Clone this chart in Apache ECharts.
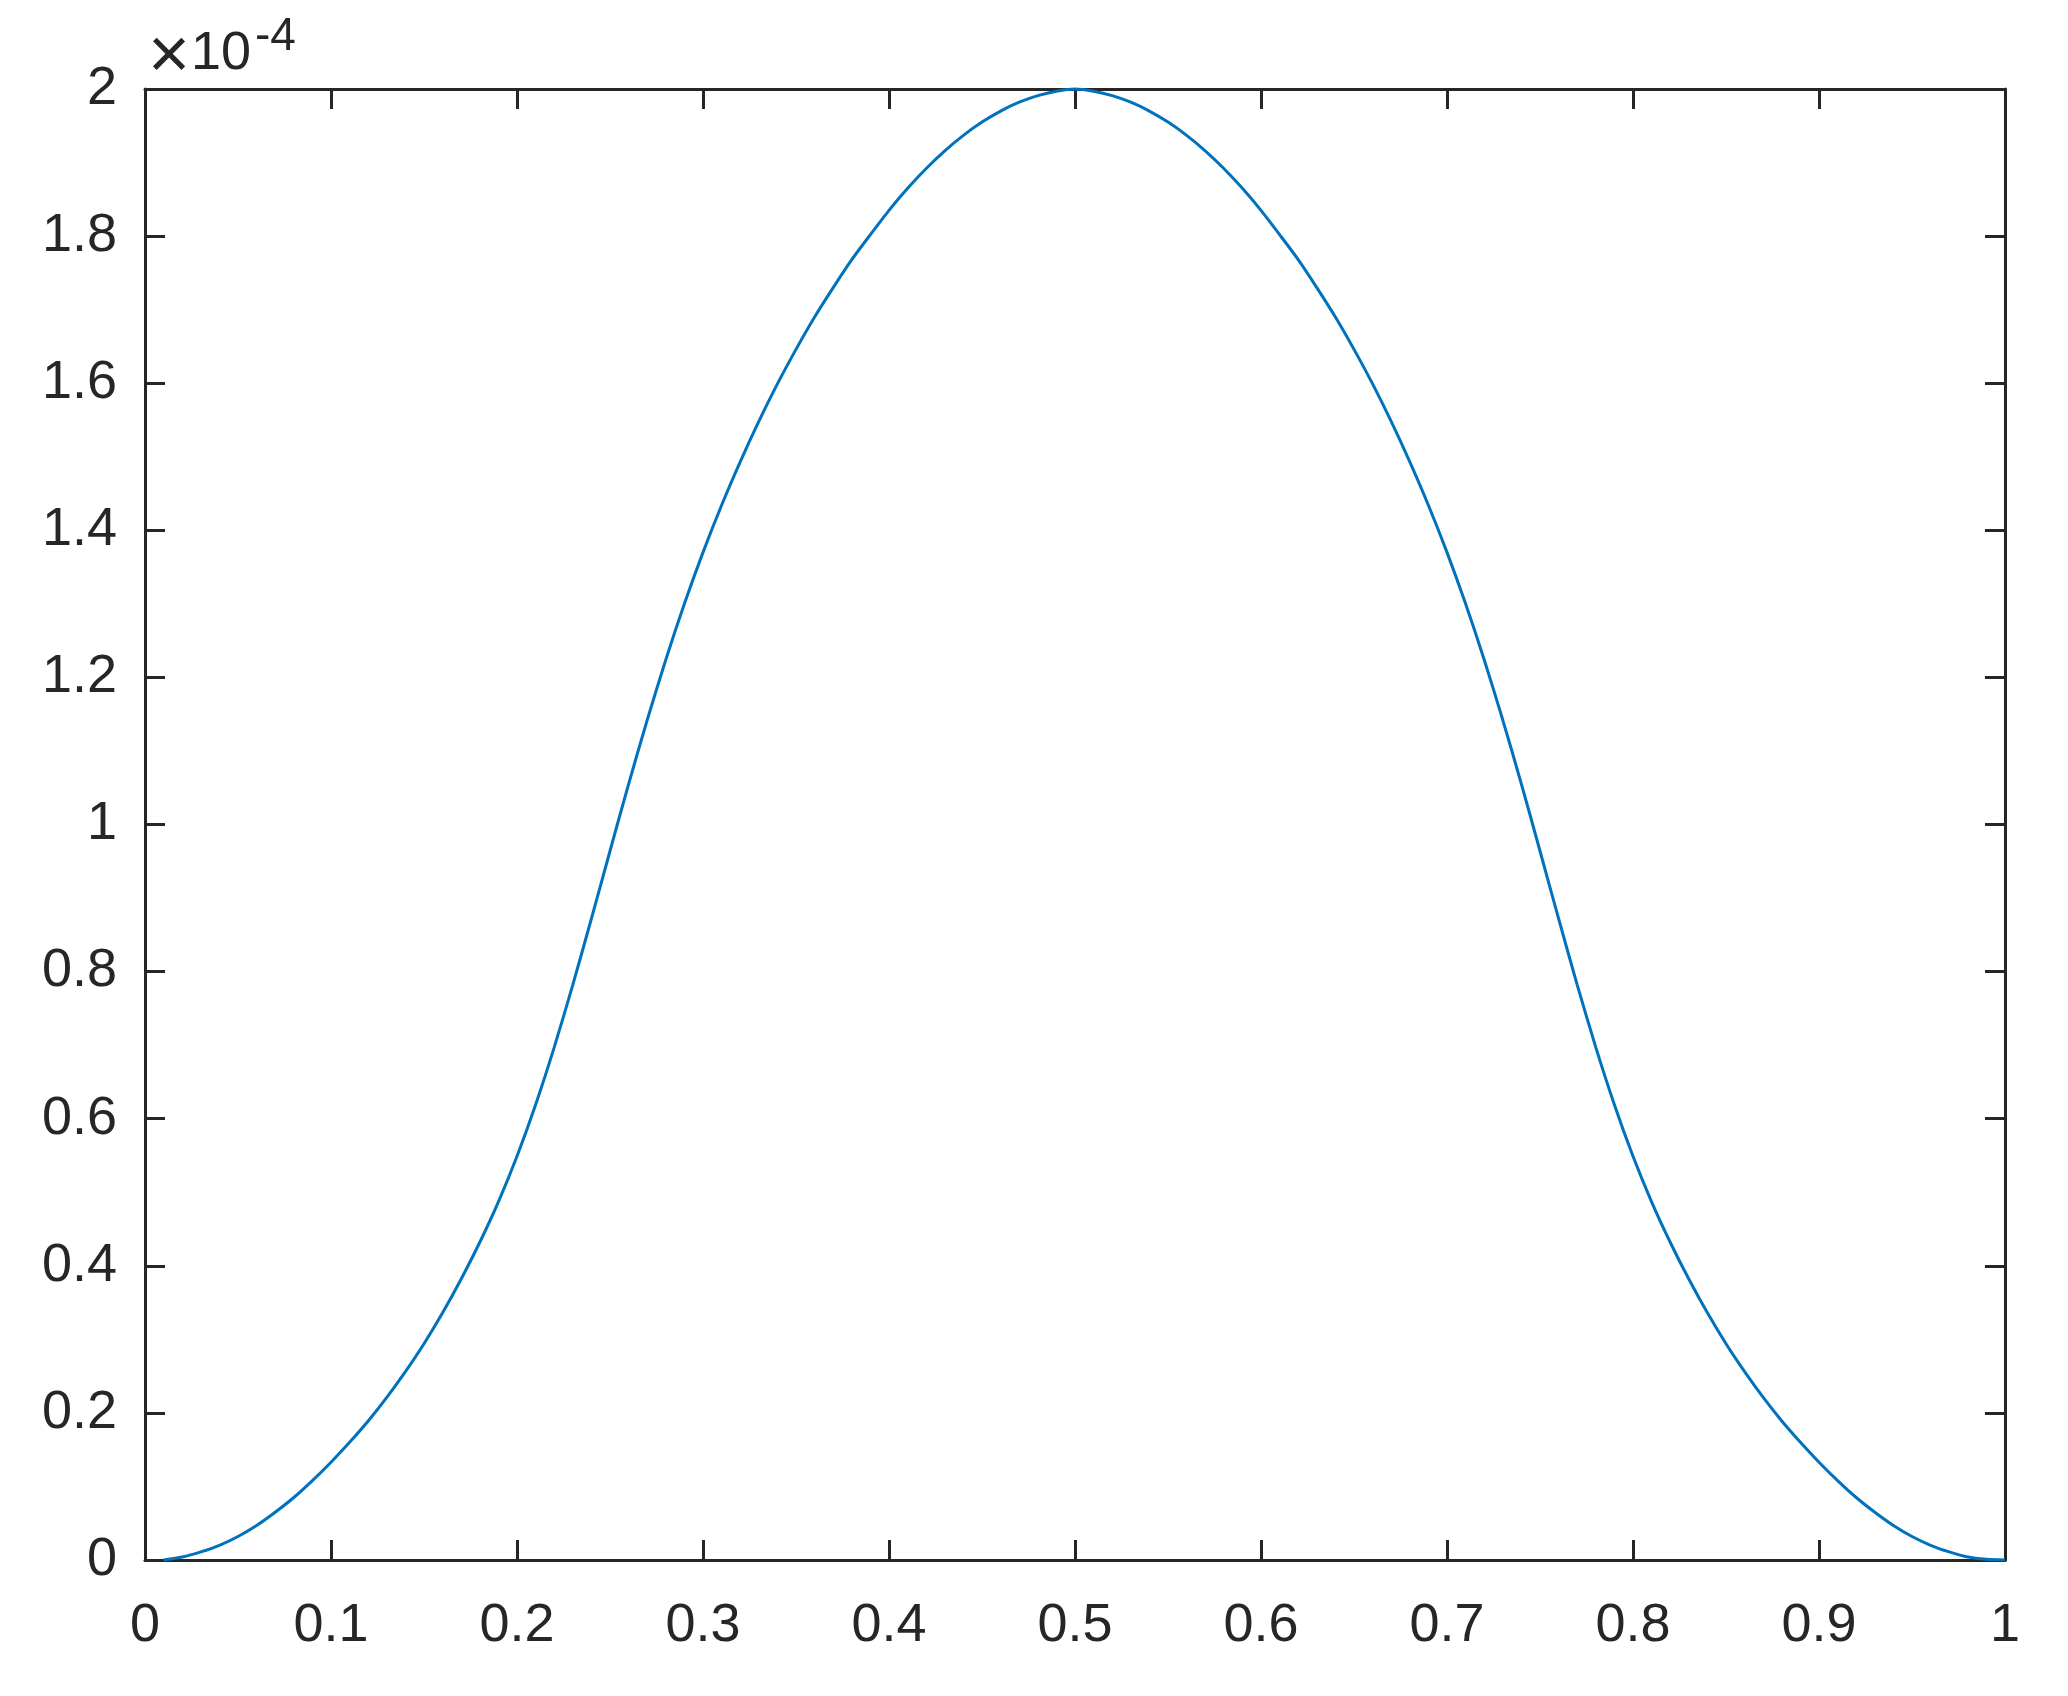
<!doctype html>
<html lang="en">
<head>
    <meta charset="UTF-8">
    <title>curve</title>
    <script src="https://cdn.jsdelivr.net/npm/echarts@6/dist/echarts.min.js"></script>
    <style>
        html, body { margin: 0; padding: 0; background: #fff; }
        #main { width: 2068px; height: 1696px; }
    </style>
</head>
<body>
<div id="main"></div>
<script>
    // values in units of 1e-4
    var xs = [0.01, 0.02, 0.03, 0.04, 0.05, 0.06, 0.07, 0.08, 0.09, 0.10,
        0.11, 0.12, 0.13, 0.14, 0.15, 0.16, 0.17, 0.18, 0.19, 0.20,
        0.21, 0.22, 0.23, 0.24, 0.25, 0.26, 0.27, 0.28, 0.29, 0.30,
        0.31, 0.32, 0.33, 0.34, 0.35, 0.36, 0.37, 0.38, 0.39, 0.40,
        0.41, 0.42, 0.43, 0.44, 0.45, 0.46, 0.47, 0.48, 0.49, 0.50,
        0.51, 0.52, 0.53, 0.54, 0.55, 0.56, 0.57, 0.58, 0.59, 0.60,
        0.61, 0.62, 0.63, 0.64, 0.65, 0.66, 0.67, 0.68, 0.69, 0.70,
        0.71, 0.72, 0.73, 0.74, 0.75, 0.76, 0.77, 0.78, 0.79, 0.80,
        0.81, 0.82, 0.83, 0.84, 0.85, 0.86, 0.87, 0.88, 0.89, 0.90,
        0.91, 0.92, 0.93, 0.94, 0.95, 0.96, 0.97, 0.98, 0.99, 1.00];
    var ys = [0, 0.004, 0.011, 0.020, 0.032, 0.047, 0.065, 0.085, 0.108, 0.133,
        0.160, 0.189, 0.221, 0.256, 0.294, 0.336, 0.382, 0.432, 0.487, 0.549,
        0.619, 0.697, 0.782, 0.872, 0.964, 1.055, 1.142, 1.224, 1.300, 1.370,
        1.434, 1.493, 1.548, 1.599, 1.646, 1.690, 1.730, 1.768, 1.802, 1.835,
        1.865, 1.892, 1.916, 1.937, 1.955, 1.970, 1.982, 1.991, 1.997, 2.000,
        1.997, 1.991, 1.982, 1.970, 1.955, 1.937, 1.916, 1.892, 1.865, 1.835,
        1.802, 1.768, 1.730, 1.690, 1.646, 1.599, 1.548, 1.493, 1.434, 1.370,
        1.300, 1.224, 1.142, 1.055, 0.964, 0.872, 0.782, 0.697, 0.619, 0.549,
        0.487, 0.432, 0.382, 0.336, 0.294, 0.256, 0.221, 0.189, 0.160, 0.133,
        0.108, 0.085, 0.065, 0.047, 0.032, 0.020, 0.011, 0.004, 0.001, 0];

    var xTicks = ['0', '0.1', '0.2', '0.3', '0.4', '0.5', '0.6', '0.7', '0.8', '0.9', '1'];
    var yTicks = ['0', '0.2', '0.4', '0.6', '0.8', '1', '1.2', '1.4', '1.6', '1.8', '2'];

    var ink = '#262626';
    var font = 'Liberation Sans, Arial, sans-serif';

    var points = [];
    for (var i = 0; i < xs.length; i++) points.push([xs[i], ys[i]]);

    function boxAxis(extra) {
        var a = {
            type: 'value',
            axisLine: { show: true, onZero: false, lineStyle: { color: ink, width: 3 } },
            axisTick: { show: true, inside: true, length: 20, lineStyle: { color: ink, width: 3 } },
            splitLine: { show: false },
            axisLabel: { show: false }
        };
        for (var k in extra) a[k] = extra[k];
        return a;
    }

    var myChart = echarts.init(document.getElementById('main'), null, { renderer: 'canvas' });
    var option = {
        backgroundColor: '#fff',
        animation: false,
        grid: { left: 145, top: 89, width: 1860, height: 1471 },
        xAxis: [
            boxAxis({
                position: 'bottom', min: 0, max: 1, interval: 0.1,
                axisLabel: {
                    show: true, margin: 39, color: ink, fontSize: 54, fontFamily: font,
                    formatter: function (v) { return xTicks[Math.round(v * 10)]; }
                }
            }),
            boxAxis({ position: 'top', min: 0, max: 1, interval: 0.1 })
        ],
        yAxis: [
            boxAxis({
                position: 'left', min: 0, max: 2, interval: 0.2,
                axisLabel: {
                    show: true, margin: 28, color: ink, fontSize: 54, fontFamily: font,
                    formatter: function (v) { return yTicks[Math.round(v * 5)]; }
                }
            }),
            boxAxis({ position: 'right', min: 0, max: 2, interval: 0.2 })
        ],
        graphic: [
            {
                type: 'text', left: 148, top: 22,
                style: { text: '\u00d7', fill: ink, font: '72px ' + font }
            },
            {
                type: 'text', left: 191, top: 27,
                style: { text: '10', fill: ink, font: '54px ' + font }
            },
            {
                type: 'text', left: 255, top: 14,
                style: { text: '-4', fill: ink, font: '46px ' + font }
            }
        ],
        series: [
            {
                type: 'line',
                data: points,
                showSymbol: false,
                smooth: 0.25,
                clip: false,
                lineStyle: { color: '#0072BD', width: 3 }
            }
        ]
    };
    myChart.setOption(option);
</script>
</body>
</html>
